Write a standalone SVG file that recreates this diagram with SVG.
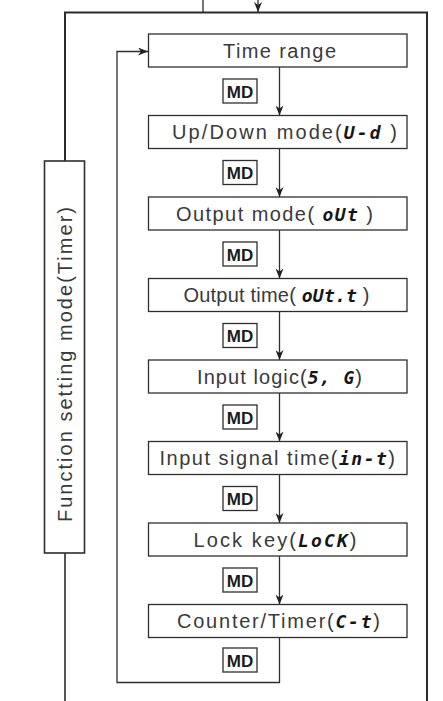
<svg xmlns="http://www.w3.org/2000/svg" width="443" height="701" viewBox="0 0 443 701">
  <style>
    .frame { fill: none; stroke: #2b2b2b; stroke-width: 2; }
    .box { fill: #ffffff; stroke: #2e2e2e; stroke-width: 1.3; }
    .lbl { font-family: "Liberation Sans", Arial, sans-serif; font-size: 20px; fill: #3a3a3a; }
    .seg { font-family: "DejaVu Sans Mono", monospace; font-weight: bold; font-style: italic; font-size: 18px; fill: #151515; }
    .key { fill: #ffffff; stroke: #2e2e2e; stroke-width: 1.3; }
    .keytxt { font-family: "Liberation Sans", Arial, sans-serif; font-weight: bold; font-size: 17px; fill: #1c1c1c; text-anchor: middle; }
    .wire { fill: none; stroke: #2e2e2e; stroke-width: 1.3; }
  </style>
  <defs>
    <marker id="arrow" viewBox="0 0 10 8" refX="10" refY="4" markerWidth="10" markerHeight="8" markerUnits="userSpaceOnUse" orient="auto">
      <path d="M0,0 L10,4 L0,8 L3,4 z" fill="#222"/>
    </marker>
  </defs>

  <!-- mode frame -->
  <g id="frame">
    <path class="frame" d="M65,161 V12.5 H427 V701"/>
    <path class="frame" d="M65,553 V701" style="stroke-width:1.6"/>
  </g>

  <!-- vertical mode label -->
  <g id="mode-label">
    <rect class="box" x="44.5" y="161" width="40" height="392" style="stroke-width:1.6"/>
    <text class="lbl" transform="translate(71.5,364.5) rotate(-90)" text-anchor="middle" textLength="315" lengthAdjust="spacing">Function setting mode(Timer)</text>
  </g>

  <!-- connectors -->
  <g id="connectors">
    <line class="wire" x1="203" y1="0" x2="203" y2="12.5"/>
    <line class="wire" x1="258" y1="0" x2="258" y2="12" marker-end="url(#arrow)"/>
    <line class="wire" x1="279.5" y1="67" x2="279.5" y2="115.5" marker-end="url(#arrow)"/>
    <line class="wire" x1="279.5" y1="148.5" x2="279.5" y2="197" marker-end="url(#arrow)"/>
    <line class="wire" x1="279.5" y1="230" x2="279.5" y2="278.5" marker-end="url(#arrow)"/>
    <line class="wire" x1="279.5" y1="311.5" x2="279.5" y2="360" marker-end="url(#arrow)"/>
    <line class="wire" x1="279.5" y1="393" x2="279.5" y2="441.5" marker-end="url(#arrow)"/>
    <line class="wire" x1="279.5" y1="474.5" x2="279.5" y2="523" marker-end="url(#arrow)"/>
    <line class="wire" x1="279.5" y1="556" x2="279.5" y2="604.5" marker-end="url(#arrow)"/>
    <path class="wire" d="M279.5,637.5 V682.5 H117 V51.5 H148" marker-end="url(#arrow)"/>
  </g>

  <!-- MD key labels -->
  <g id="md-keys">
    <rect class="key" x="223" y="79" width="34" height="24"/>
    <text class="keytxt" x="240" y="97.5">MD</text>
    <rect class="key" x="223" y="160.5" width="34" height="24"/>
    <text class="keytxt" x="240" y="179">MD</text>
    <rect class="key" x="223" y="242" width="34" height="24"/>
    <text class="keytxt" x="240" y="260.5">MD</text>
    <rect class="key" x="223" y="323.5" width="34" height="24"/>
    <text class="keytxt" x="240" y="342">MD</text>
    <rect class="key" x="223" y="405" width="34" height="24"/>
    <text class="keytxt" x="240" y="423.5">MD</text>
    <rect class="key" x="223" y="486.5" width="34" height="24"/>
    <text class="keytxt" x="240" y="505">MD</text>
    <rect class="key" x="223" y="568" width="34" height="24"/>
    <text class="keytxt" x="240" y="586.5">MD</text>
    <rect class="key" x="223" y="648" width="34" height="24"/>
    <text class="keytxt" x="240" y="666.5">MD</text>
  </g>

  <!-- parameter steps -->
  <g id="time-range">
    <rect class="box" x="148.5" y="34" width="258.5" height="33"/>
    <text class="lbl" x="223" y="57.5" textLength="113" lengthAdjust="spacing">Time range</text>
  </g>
  <g id="up-down-mode">
    <rect class="box" x="148.5" y="115.5" width="258.5" height="33"/>
    <text class="lbl" x="172" y="139" textLength="225" lengthAdjust="spacing">Up/Down mode(<tspan class="seg">U-d</tspan> )</text>
  </g>
  <g id="output-mode">
    <rect class="box" x="148.5" y="197" width="258.5" height="33"/>
    <text class="lbl" x="176" y="220.5" textLength="197" lengthAdjust="spacing">Output mode( <tspan class="seg">oUt</tspan> )</text>
  </g>
  <g id="output-time">
    <rect class="box" x="148.5" y="278.5" width="258.5" height="33"/>
    <text class="lbl" x="183.5" y="302" textLength="186" lengthAdjust="spacing">Output time( <tspan class="seg">oUt.t</tspan> )</text>
  </g>
  <g id="input-logic">
    <rect class="box" x="148.5" y="360" width="258.5" height="33"/>
    <text class="lbl" x="197" y="383.5" textLength="165" lengthAdjust="spacing">Input logic(<tspan class="seg">5, G</tspan>)</text>
  </g>
  <g id="input-signal-time">
    <rect class="box" x="148.5" y="441.5" width="258.5" height="33"/>
    <text class="lbl" x="159.5" y="465" textLength="235.5" lengthAdjust="spacing">Input signal time(<tspan class="seg">in-t</tspan>)</text>
  </g>
  <g id="lock-key">
    <rect class="box" x="148.5" y="523" width="258.5" height="33"/>
    <text class="lbl" x="193.5" y="546.5" textLength="163" lengthAdjust="spacing">Lock key(<tspan class="seg">LoCK</tspan>)</text>
  </g>
  <g id="counter-timer">
    <rect class="box" x="148.5" y="604.5" width="258.5" height="33"/>
    <text class="lbl" x="177" y="628" textLength="203" lengthAdjust="spacing">Counter/Timer(<tspan class="seg">C-t</tspan>)</text>
  </g>
</svg>
